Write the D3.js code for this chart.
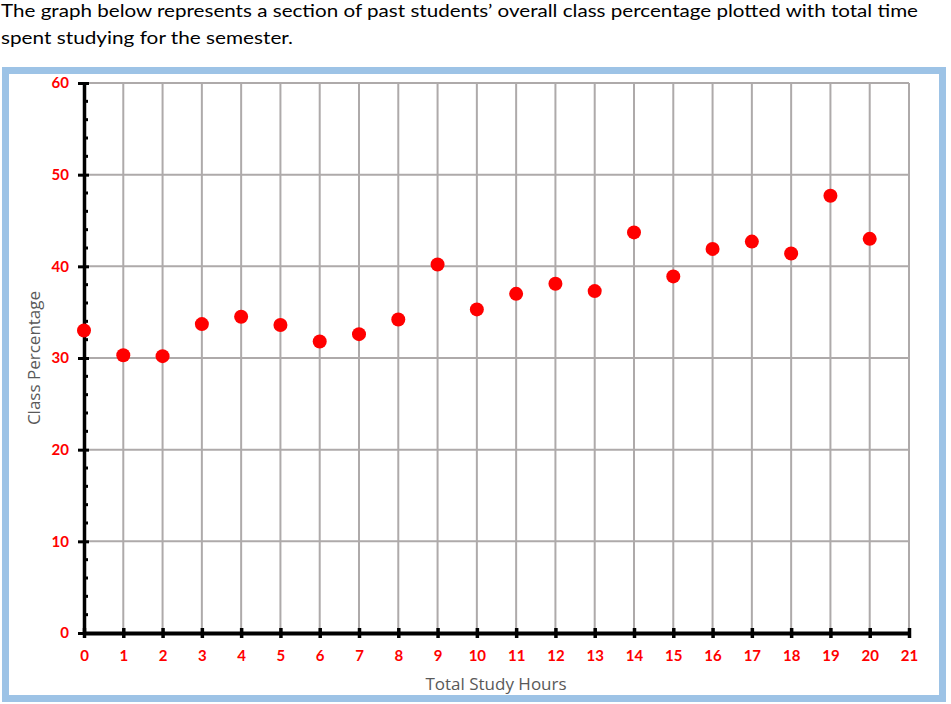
<!DOCTYPE html>
<html>
<head>
<meta charset="utf-8">
<script src="https://cdn.jsdelivr.net/npm/d3@7"></script>
<style>
  html, body { margin: 0; padding: 0; background: #fff; }
  svg { display: block; }
</style>
</head>
<body>
<svg id="chart" width="951" height="704"></svg>
<script>
const titleLines = [
  "The graph below represents a section of past students\u2019 overall class percentage plotted with total time",
  "spent studying for the semester."
];
const xLabel = "Total Study Hours";
const yLabel = "Class Percentage";
const studyHours = [0,1,2,3,4,5,6,7,8,9,10,11,12,13,14,15,16,17,18,19,20];
const classPercentage = [33.0,30.3,30.2,33.7,34.5,33.6,31.8,32.6,34.2,40.2,35.3,37.0,38.1,37.3,43.7,38.9,41.9,42.7,41.4,47.7,43.0];
const xTicks = d3.range(0, 22, 1);
const yTicks = [0,10,20,30,40,50,60];
const yMinorTicks = d3.range(0, 61, 2).filter(v => v % 10 !== 0);

const svg = d3.select("#chart");

// Title text
svg.append("text").attr("x", 1).attr("y", 17)
  .attr("font-family", "Lato, 'Open Sans', sans-serif").attr("font-size", 18)
  .attr("fill", "#000")
  .attr("textLength", 917).attr("lengthAdjust", "spacingAndGlyphs")
  .text(titleLines[0]);
svg.append("text").attr("x", 1).attr("y", 44)
  .attr("font-family", "Lato, 'Open Sans', sans-serif").attr("font-size", 18)
  .attr("fill", "#000")
  .attr("textLength", 292).attr("lengthAdjust", "spacingAndGlyphs")
  .text(titleLines[1]);

// Frame
svg.append("rect").attr("x", 5.5).attr("y", 70.5).attr("width", 937).attr("height", 628)
  .attr("fill", "#fff").attr("stroke", "#9dc3e6").attr("stroke-width", 7);

const x = d3.scaleLinear().domain([0, 21]).range([84, 909]);
const y = d3.scaleLinear().domain([0, 60]).range([633, 83]);

// Gridlines
const grid = svg.append("g").attr("stroke", "#aeaaaa").attr("stroke-width", 2);
grid.selectAll("line.v").data(xTicks.filter(d => d > 0)).join("line")
  .attr("x1", d => x(d)).attr("x2", d => x(d)).attr("y1", y(60)).attr("y2", y(0));
grid.selectAll("line.h").data(yTicks.filter(d => d > 0)).join("line")
  .attr("class", "h")
  .attr("x1", x(0)).attr("x2", x(21)).attr("y1", d => y(d)).attr("y2", d => y(d));

// Y axis
const yAxisG = svg.append("g").attr("transform", `translate(${x(0)},0)`);
yAxisG.call(d3.axisLeft(y).tickValues(yTicks).tickSize(6).tickSizeOuter(0).tickPadding(9));
yAxisG.select(".domain").attr("stroke", "#000").attr("stroke-width", 3.5);
yAxisG.selectAll(".tick line").attr("x1", -6).attr("x2", 5).attr("stroke", "#000").attr("stroke-width", 3);
yAxisG.selectAll(".tick text").attr("fill", "#ff0000").attr("font-weight", "bold")
  .attr("font-family", "Lato, sans-serif").attr("font-size", 15);
yAxisG.selectAll("line.minor").data(yMinorTicks).join("line")
  .attr("class", "minor")
  .attr("x1", 0).attr("x2", 4).attr("y1", d => y(d)).attr("y2", d => y(d))
  .attr("stroke", "#000").attr("stroke-width", 3);

// X axis
const xAxisG = svg.append("g").attr("transform", `translate(0,${y(0)})`);
xAxisG.call(d3.axisBottom(x).tickValues(xTicks).tickSize(5).tickSizeOuter(0).tickPadding(12));
xAxisG.select(".domain").attr("stroke", "#000").attr("stroke-width", 4);
xAxisG.selectAll(".tick line").attr("y1", -5).attr("y2", 5).attr("stroke", "#000").attr("stroke-width", 3.5);
xAxisG.selectAll(".tick text").attr("fill", "#ff0000").attr("font-weight", "bold")
  .attr("font-family", "Lato, sans-serif").attr("font-size", 15);

// Axis titles
svg.append("text").attr("x", 496).attr("y", 690).attr("text-anchor", "middle")
  .attr("font-family", "'Open Sans', sans-serif").attr("font-size", 17).attr("fill", "#595959")
  .text(xLabel);
svg.append("text").attr("transform", "translate(40,358) rotate(-90)").attr("text-anchor", "middle")
  .attr("font-family", "'Open Sans', sans-serif").attr("font-size", 17).attr("fill", "#595959")
  .text(yLabel);

// Points
svg.append("g").selectAll("circle").data(studyHours).join("circle")
  .attr("cx", (d) => x(d)).attr("cy", (d, i) => y(classPercentage[i])).attr("r", 7)
  .attr("fill", "#ff0000");
</script>
</body>
</html>
